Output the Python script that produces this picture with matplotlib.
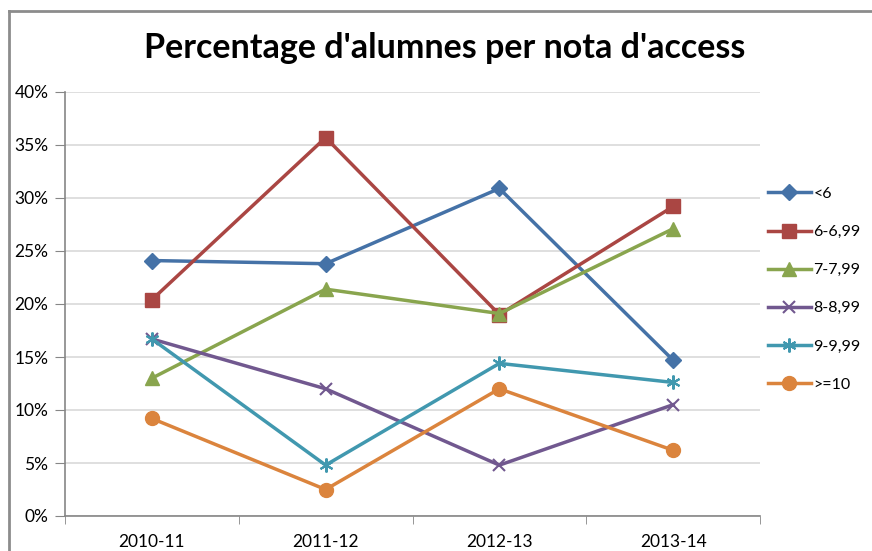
import matplotlib.pyplot as plt
from matplotlib.lines import Line2D
from matplotlib.ticker import FuncFormatter, FixedLocator

plt.rcParams['font.family'] = ['Lato', 'DejaVu Sans']

cursos = ["2010-11", "2011-12", "2012-13", "2013-14"]
franges = ["<6", "6-6,99", "7-7,99", "8-8,99", "9-9,99", ">=10"]
menys6 = [24.1, 23.8, 30.9, 14.7]
de6 = [20.4, 35.7, 19.0, 29.2]
de7 = [13.0, 21.4, 19.1, 27.1]
de8 = [16.7, 12.0, 4.8, 10.5]
de9 = [16.7, 4.8, 14.4, 12.6]
mes10 = [9.2, 2.5, 12.0, 6.2]

series = [menys6, de6, de7, de8, de9, mes10]
colors = ["#4572A7", "#AA4643", "#89A54E", "#71588F", "#4198AF", "#DB843D"]
markers = ["D", "s", "^", "x", "*", "o"]
msizes = [8, 10, 10, 10, 10, 10]

fig = plt.figure(figsize=(8.72, 5.51), dpi=100)
ax = fig.add_axes([65 / 872, 35 / 551, 695 / 872, 424 / 551])

x = list(range(len(cursos)))
for vals, c, m, ms, lab in zip(series, colors, markers, msizes, franges):
    if m == "*":
        # asterisk marker: x + vertical bar
        ax.plot(x, vals, color=c, lw=2.5, marker=(6, 2, 0), ms=ms, mew=1.5, label=lab, zorder=3)
    elif m == "x":
        ax.plot(x, vals, color=c, lw=2.5, marker="x", ms=ms - 1, mew=1.5, label=lab, zorder=3)
    else:
        ax.plot(x, vals, color=c, lw=2.5, marker=m, ms=ms, mec=c, label=lab, zorder=3)

ax.set_xlim(-0.5, 3.5)
ax.set_ylim(0, 40)
ax.set_yticks(range(0, 41, 5))
ax.yaxis.set_major_formatter(FuncFormatter(lambda v, p: "%d%%" % v))
ax.set_xticks(x)
ax.set_xticklabels(cursos)
ax.xaxis.set_minor_locator(FixedLocator([-0.5, 0.5, 1.5, 2.5, 3.5]))
ax.tick_params(axis="x", which="major", length=0, pad=13, labelsize=12.5)
ax.tick_params(axis="x", which="minor", length=6, color="#868686", direction="out")
ax.tick_params(axis="y", length=7, color="#868686", labelsize=12.5, pad=5)
ax.grid(axis="y", color="#d9d9d9", lw=1.2)
ax.set_axisbelow(True)
for s in ["top", "right"]:
    ax.spines[s].set_visible(False)
for s in ["left", "bottom"]:
    ax.spines[s].set_color("#868686")
    ax.spines[s].set_linewidth(1.2)

fig.text(445 / 872, 1 - 48 / 551, "Percentage d'alumnes per nota d'access",
         ha="center", va="center", fontsize=24.5, fontweight="bold")

leg = ax.legend(loc="upper left", bbox_to_anchor=(763 / 872, 1 - 182 / 551),
                bbox_transform=fig.transFigure, frameon=False, fontsize=11.5,
                labelspacing=1.5, handlelength=2.7, handletextpad=0.15,
                borderaxespad=0, borderpad=0.3)

# chart area border (left and top edges)
fig.add_artist(Line2D([9 / 872, 9 / 872], [0, 1 - 11 / 551], transform=fig.transFigure,
                      color="#8c8c8c", lw=2))
fig.add_artist(Line2D([9 / 872, 1], [1 - 11 / 551, 1 - 11 / 551], transform=fig.transFigure,
                      color="#8c8c8c", lw=2))

fig.savefig("out.png", dpi=100)
